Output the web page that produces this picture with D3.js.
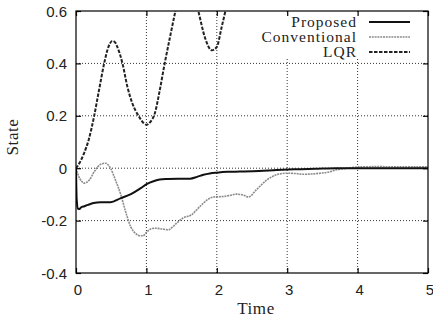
<!DOCTYPE html>
<html>
<head>
<meta charset="utf-8">
<script src="https://cdn.jsdelivr.net/npm/d3@7"></script>
<style>
html,body{margin:0;padding:0;background:#fff;}
svg{display:block;}
</style>
</head>
<body>
<svg id="chart" width="433" height="321"></svg>
<script>
// ---- data ----
const xTicks = [0, 1, 2, 3, 4, 5];
const yTicks = [-0.4, -0.2, 0, 0.2, 0.4, 0.6];
const xTickLabels = ["0", "1", "2", "3", "4", "5"];
const yTickLabels = ["-0.4", "-0.2", "0", "0.2", "0.4", "0.6"];
const seriesNames = ["Proposed", "Conventional", "LQR"];

const proposedT = [0, 0.01, 0.03, 0.05, 0.07, 0.12, 0.17, 0.25, 0.35, 0.49, 0.63, 0.78, 0.92, 1.01, 1.1, 1.19, 1.3, 1.45, 1.62, 1.72, 1.81, 1.9, 2.0, 2.15, 2.33, 2.6, 2.85, 3.1, 3.4, 3.7, 4.0, 4.5, 5.0];
const proposedV = [0, -0.12, -0.155, -0.156, -0.15, -0.145, -0.14, -0.133, -0.13, -0.13, -0.115, -0.099, -0.076, -0.06, -0.05, -0.043, -0.041, -0.04, -0.04, -0.033, -0.025, -0.02, -0.017, -0.014, -0.013, -0.011, -0.007, -0.004, -0.002, 0, 0, 0, 0];

const conventionalT = [0, 0.04, 0.08, 0.11, 0.15, 0.19, 0.26, 0.35, 0.42, 0.49, 0.56, 0.635, 0.71, 0.78, 0.85, 0.91, 0.95, 1.0, 1.06, 1.12, 1.22, 1.31, 1.37, 1.43, 1.52, 1.64, 1.76, 1.88, 1.95, 2.09, 2.2, 2.28, 2.38, 2.45, 2.56, 2.71, 2.85, 2.99, 3.1, 3.23, 3.35, 3.47, 3.6, 3.7, 3.8, 3.9, 4.03, 4.3, 4.6, 5.0];
const conventionalV = [0, -0.032, -0.05, -0.057, -0.054, -0.045, -0.013, 0.015, 0.019, 0.0, -0.045, -0.10, -0.171, -0.225, -0.25, -0.258, -0.258, -0.245, -0.232, -0.229, -0.232, -0.235, -0.225, -0.21, -0.19, -0.178, -0.146, -0.118, -0.11, -0.108, -0.103, -0.099, -0.103, -0.11, -0.083, -0.045, -0.025, -0.019, -0.02, -0.023, -0.022, -0.019, -0.014, -0.006, -0.002, 0.002, 0.005, 0.006, 0.005, 0.005];

const lqrT = [0, 0.05, 0.114, 0.18, 0.256, 0.327, 0.40, 0.445, 0.48, 0.516, 0.55, 0.587, 0.66, 0.73, 0.80, 0.895, 0.966, 1.0, 1.05, 1.12, 1.19, 1.26, 1.335, 1.41, 1.48, 1.57, 1.66, 1.74, 1.83, 1.93, 2.0, 2.07, 2.12, 2.2];
const lqrV = [0, 0.02, 0.057, 0.108, 0.197, 0.298, 0.40, 0.45, 0.475, 0.486, 0.482, 0.463, 0.40, 0.311, 0.248, 0.197, 0.171, 0.166, 0.175, 0.21, 0.298, 0.40, 0.50, 0.597, 0.68, 0.72, 0.68, 0.597, 0.50, 0.45, 0.463, 0.54, 0.597, 0.70];

// ---- layout ----
const svg = d3.select("#chart");
const pLeft = 76, pRight = 428, pTop = 11, pBottom = 273;
const x = d3.scaleLinear().domain([0, 5]).range([pLeft, pRight]);
const y = d3.scaleLinear().domain([-0.4, 0.6]).range([pBottom, pTop]);

const sansFont = "'Liberation Sans', Arial, sans-serif";
const serifFont = "'Liberation Serif', 'Times New Roman', serif";

svg.append("defs").append("clipPath").attr("id", "plotclip")
  .append("rect").attr("x", pLeft).attr("y", pTop).attr("width", pRight - pLeft).attr("height", pBottom - pTop);

// grid
const grid = svg.append("g");
grid.selectAll("line.gx").data(xTicks.slice(1, -1)).enter().append("line")
  .attr("x1", d => x(d)).attr("x2", d => x(d)).attr("y1", pTop).attr("y2", pBottom)
  .attr("stroke", "#333").attr("stroke-width", 1).attr("stroke-dasharray", "1,2");
grid.selectAll("line.gy").data(yTicks.slice(1, -1)).enter().append("line")
  .attr("x1", pLeft).attr("x2", pRight).attr("y1", d => y(d)).attr("y2", d => y(d))
  .attr("stroke", "#333").attr("stroke-width", 1).attr("stroke-dasharray", "1,2");

// legend background (hides grid behind key)
svg.append("rect").attr("x", 250).attr("y", pTop + 1).attr("width", 172).attr("height", 46).attr("fill", "#fff");

// series
const styles = [
  {t: proposedT, v: proposedV, stroke: "#111", width: 2, dash: null},
  {t: conventionalT, v: conventionalV, stroke: "#8c8c8c", width: 1.6, dash: "2,0.8"},
  {t: lqrT, v: lqrV, stroke: "#222", width: 2, dash: "3.5,1.5"}
];
const line = d3.line().x(d => x(d[0])).y(d => y(d[1])).curve(d3.curveMonotoneX);
const plot = svg.append("g").attr("clip-path", "url(#plotclip)");
[1, 2, 0].forEach(i => {
  const s = styles[i];
  plot.append("path")
    .datum(s.t.map((t, k) => [t, s.v[k]]))
    .attr("d", line)
    .attr("fill", "none")
    .attr("stroke", s.stroke)
    .attr("stroke-width", s.width)
    .attr("stroke-dasharray", s.dash)
    .attr("stroke-linejoin", "round");
});

// frame
svg.append("rect").attr("x", pLeft).attr("y", pTop).attr("width", pRight - pLeft).attr("height", pBottom - pTop)
  .attr("fill", "none").attr("stroke", "#000").attr("stroke-width", 1.2);

// ticks (inner, mirrored) via axes
const tickLen = 5;
const axB = svg.append("g").attr("transform", `translate(0,${pBottom})`)
  .call(d3.axisTop(x).tickValues(xTicks).tickSize(tickLen).tickFormat(""));
const axT = svg.append("g").attr("transform", `translate(0,${pTop})`)
  .call(d3.axisBottom(x).tickValues(xTicks).tickSize(tickLen).tickFormat(""));
const axL = svg.append("g").attr("transform", `translate(${pLeft},0)`)
  .call(d3.axisRight(y).tickValues(yTicks).tickSize(tickLen).tickFormat(""));
const axR = svg.append("g").attr("transform", `translate(${pRight},0)`)
  .call(d3.axisLeft(y).tickValues(yTicks).tickSize(tickLen).tickFormat(""));
[axB, axT, axL, axR].forEach(a => { a.select(".domain").remove(); a.selectAll("line").attr("stroke", "#000").attr("stroke-width", 1.2); });

// tick labels
svg.append("g").selectAll("text").data(xTicks).enter().append("text")
  .attr("x", d => x(d) + 2).attr("y", 295)
  .attr("text-anchor", "middle")
  .attr("font-family", sansFont).attr("font-size", 15).attr("fill", "#222")
  .text((d, i) => xTickLabels[i]);
svg.append("g").selectAll("text").data(yTicks).enter().append("text")
  .attr("x", 67).attr("y", d => y(d) + 5.5)
  .attr("text-anchor", "end")
  .attr("font-family", sansFont).attr("font-size", 15).attr("fill", "#222")
  .text((d, i) => yTickLabels[i]);

// axis titles
svg.append("text").attr("x", 256).attr("y", 314).attr("text-anchor", "middle")
  .attr("font-family", serifFont).attr("font-size", 17).attr("letter-spacing", 0.6).attr("fill", "#222").text("Time");
svg.append("text").attr("transform", "translate(18,137) rotate(-90)").attr("text-anchor", "middle")
  .attr("font-family", serifFont).attr("font-size", 17).attr("letter-spacing", 0.6).attr("fill", "#222").text("State");

// legend
const legendY = [22, 37, 52];
const lg = svg.append("g");
seriesNames.forEach((name, i) => {
  lg.append("text").attr("x", 357).attr("y", legendY[i] + 5).attr("text-anchor", "end")
    .attr("font-family", serifFont).attr("font-size", 15.5).attr("letter-spacing", 1)
    .attr("fill", "#222").text(name);
  const s = styles[i];
  lg.append("line").attr("x1", 369).attr("x2", 410).attr("y1", legendY[i]).attr("y2", legendY[i])
    .attr("stroke", s.stroke).attr("stroke-width", s.width).attr("stroke-dasharray", s.dash);
});
</script>
</body>
</html>
